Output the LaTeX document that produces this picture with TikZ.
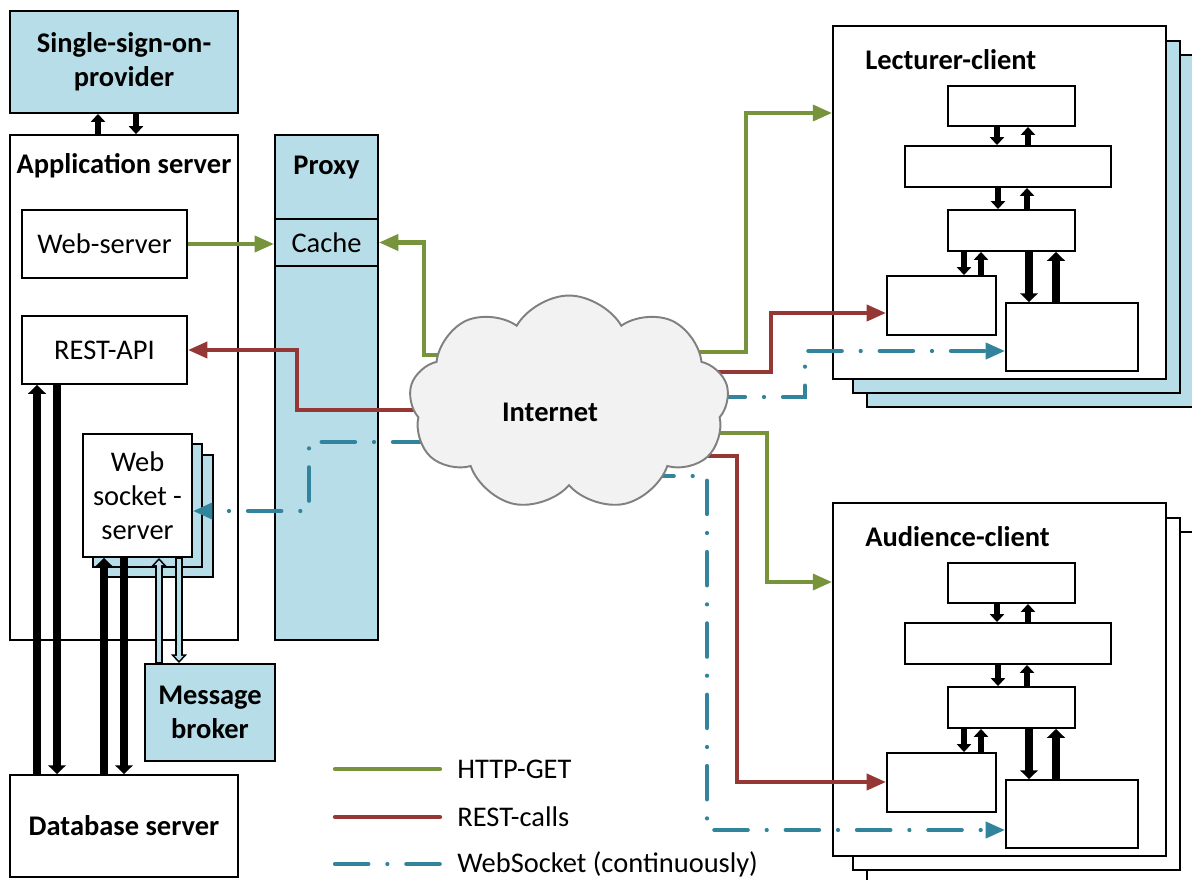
\documentclass[tikz,border=0pt]{standalone}
\usepackage{fontspec}
\setmainfont{Carlito}
\usepackage{tikz}
\usetikzlibrary{arrows.meta}
\usetikzlibrary{shapes.symbols}
\usetikzlibrary{calc}

\definecolor{boxblue}{HTML}{B7DDE8}
\definecolor{getgreen}{HTML}{77933C}
\definecolor{restred}{HTML}{953735}
\definecolor{wsteal}{HTML}{31849B}
\definecolor{cloudgray}{HTML}{F2F2F2}

\tikzset{
  box/.style={draw, line width=1.1pt, fill=white, inner sep=0pt, align=center,
    font=\fontsize{16.2}{19.5}\selectfont},
  boldbox/.style={box, font=\bfseries\fontsize{16.2}{19.5}\selectfont},
  heading/.style={inner sep=0pt, font=\bfseries\fontsize{16.2}{19.5}\selectfont},
  legend/.style={inner sep=0pt, anchor=west, font=\fontsize{16.2}{19.5}\selectfont},
  httpget/.style={getgreen, line width=2.4pt, -{Triangle[length=11pt,width=9pt]}},
  restcall/.style={restred, line width=2.4pt, -{Triangle[length=11pt,width=9pt]}},
  socket/.style={wsteal, line width=2.4pt, line cap=round,
    dash pattern=on 19pt off 10.8pt on 0pt off 10.8pt, -{Triangle[length=11pt,width=9pt]}},
  fat/.style={line width=4.5pt, -{Triangle[length=5pt,width=10pt]}},
  slim/.style={line width=3.4pt, -{Triangle[length=4.5pt,width=8pt]}},
  hollow/.style={line width=4pt, -{Triangle[length=5pt,width=9pt]}},
  hollowin/.style={boxblue, line width=1.8pt, shorten <=0.6pt, shorten >=1.35pt,
    -{Triangle[length=2.75pt,width=4.95pt]}},
}

\begin{document}
\begin{tikzpicture}[x=0.02cm, y=-0.02cm]
    \useasboundingbox (0,0) rectangle (1192,879);

    % server side
    \node[boldbox, fill=boxblue, minimum width=4.56cm, minimum height=2.04cm] (sso) at (124,62) {Single-sign-on-\\provider};
    \node[box, minimum width=4.56cm, minimum height=10.1cm] (app) at (124,387.5) {};
    \node[heading] (apptitle) at (124,166) {Application server};
    \node[box, minimum width=3.3cm, minimum height=1.36cm] (web) at (104.5,244) {Web-server};
    \node[box, minimum width=3.3cm, minimum height=1.36cm] (restapi) at (104.5,350) {REST-API};
    \node[box, fill=boxblue, minimum width=2.2cm, minimum height=2.44cm] (wss3) at (158,516) {};
    \node[box, fill=boxblue, minimum width=2.18cm, minimum height=2.46cm] (wss2) at (147.5,505.5) {};
    \node[box, minimum width=2.18cm, minimum height=2.46cm] (wss) at (137.5,495.5) {Web\\socket -\\server};
    \node[boldbox, fill=boxblue, minimum width=2.6cm, minimum height=1.94cm] (broker) at (210,712.5) {Message\\broker};
    \node[boldbox, minimum width=4.56cm, minimum height=2.04cm] (db) at (124,826) {Database server};

    % proxy
    \node[box, fill=boxblue, minimum width=2.06cm, minimum height=10.1cm] (proxy) at (326.5,387.5) {};
    \node[heading] (proxytitle) at (326.5,168) {Proxy};
    \node[box, fill=boxblue, minimum width=2.06cm, minimum height=0.94cm] (cache) at (326.5,242.5) {Cache};

    % clients
    \foreach \c/\dy/\shade/\name in {lec/0/boxblue/Lecturer-client, aud/477/white/Audience-client}{
      \node[box, fill=\shade, minimum width=6.86cm, minimum height=7.04cm] (\c-s2) at (1038.5,231+\dy) {};
      \node[box, fill=\shade, minimum width=6.54cm, minimum height=7.04cm] (\c-s1) at (1016.5,217+\dy) {};
      \node[box, minimum width=6.66cm, minimum height=7.06cm] (\c) at (999.5,202.5+\dy) {};
      \node[heading, anchor=west] (\c-title) at (865,60+\dy) {\name};
      \node[box, minimum width=2.54cm, minimum height=0.8cm] (\c-b1) at (1011.5,106+\dy) {};
      \node[box, minimum width=4.12cm, minimum height=0.82cm] (\c-b2) at (1008,166.5+\dy) {};
      \node[box, minimum width=2.54cm, minimum height=0.82cm] (\c-b3) at (1011.5,230.5+\dy) {};
      \node[box, minimum width=2.18cm, minimum height=1.18cm] (\c-b4) at (941.5,305.5+\dy) {};
      \node[box, minimum width=2.64cm, minimum height=1.36cm] (\c-b5) at (1072,337+\dy) {};
      \draw[slim] (\c-b1.south -| 997,0) -- (\c-b2.north -| 997,0);
      \draw[slim] (\c-b2.north -| 1028,0) -- (\c-b1.south -| 1028,0);
      \draw[slim] (\c-b2.south -| 998,0) -- (\c-b3.north -| 998,0);
      \draw[slim] (\c-b3.north -| 1027,0) -- (\c-b2.south -| 1027,0);
      \draw[slim] (\c-b3.south -| 964,0) -- (\c-b4.north -| 964,0);
      \draw[slim] (\c-b4.north -| 981,0) -- (\c-b3.south -| 981,0);
      \draw[fat] (\c-b3.south -| 1029,0) -- (\c-b5.north -| 1029,0);
      \draw[fat] (\c-b5.north -| 1056,0) -- (\c-b3.south -| 1056,0);
    }

    % black links
    \draw[slim] (app.north -| 98,0) -- (sso.south -| 98,0);
    \draw[slim] (sso.south -| 136,0) -- (app.north -| 136,0);
    \draw[fat] (db.north -| 37,0) -- (restapi.south -| 37,0);
    \draw[fat] (restapi.south -| 57,0) -- (db.north -| 57,0);
    \draw[fat] (db.north -| 104,0) -- (wss.south -| 104,0);
    \draw[fat] (wss.south -| 124,0) -- (db.north -| 124,0);
    \draw[hollow] (broker.north -| 159,0) -- (wss.south -| 159,0);
    \draw[hollowin] (broker.north -| 159,0) -- (wss.south -| 159,0);
    \draw[hollow] (wss.south -| 179,0) -- (broker.north -| 179,0);
    \draw[hollowin] (wss.south -| 179,0) -- (broker.north -| 179,0);

    % traffic through the internet
    \coordinate (cc) at (569,403);
    \draw[httpget] (web.east) -- (web.east -| cache.west);
    \draw[httpget] (cc |- 0,355) -| ($(cache.east)+(45,0)$) -- (cache.east);
    \draw[restcall] (cc |- 0,410) -| ($(restapi.east)+(109,0)$) -- (restapi.east);
    \draw[socket] (cc |- 0,442) -| (309,511) -- (wss.east |- 0,511);
    \draw[httpget] (cc |- 0,352) -| (746,113) -- (lec.west |- 0,113);
    \draw[restcall] (cc |- 0,372) -| (771,313) -- (lec-b4.west |- 0,313);
    \draw[socket] (cc |- 0,397) -| (805,351) -- (lec-b5.west |- 0,351);
    \draw[httpget] (cc |- 0,433) -| (767,582) -- (aud.west |- 0,582);
    \draw[restcall] (cc |- 0,456) -| (737,782) -- (aud-b4.west |- 0,782);
    \draw[socket] (cc |- 0,476) -| (707,830) -- (aud-b5.west |- 0,830);

    \node[cloud, cloud puffs=9, cloud puff arc=120, aspect=1.5, draw=gray, fill=cloudgray,
      line width=1.1pt, minimum width=6.4cm, minimum height=4.3cm] (inet) at (cc) {};
    \node[heading] (inettext) at (550,412) {Internet};

    % legend
    \node[legend] (lgget) at (457,769) {HTTP-GET};
    \node[legend] (lgrest) at (457,817) {REST-calls};
    \node[legend] (lgws) at (457,864) {WebSocket (continuously)};
    \draw[httpget, -, line cap=round] ($(lgget.west)+(-122,0)$) -- ($(lgget.west)+(-17,0)$);
    \draw[restcall, -, line cap=round] ($(lgrest.west)+(-122,0)$) -- ($(lgrest.west)+(-17,0)$);
    \draw[socket, -] ($(lgws.west)+(-122,0)$) -- ($(lgws.west)+(-17,0)$);
\end{tikzpicture}
\end{document}
